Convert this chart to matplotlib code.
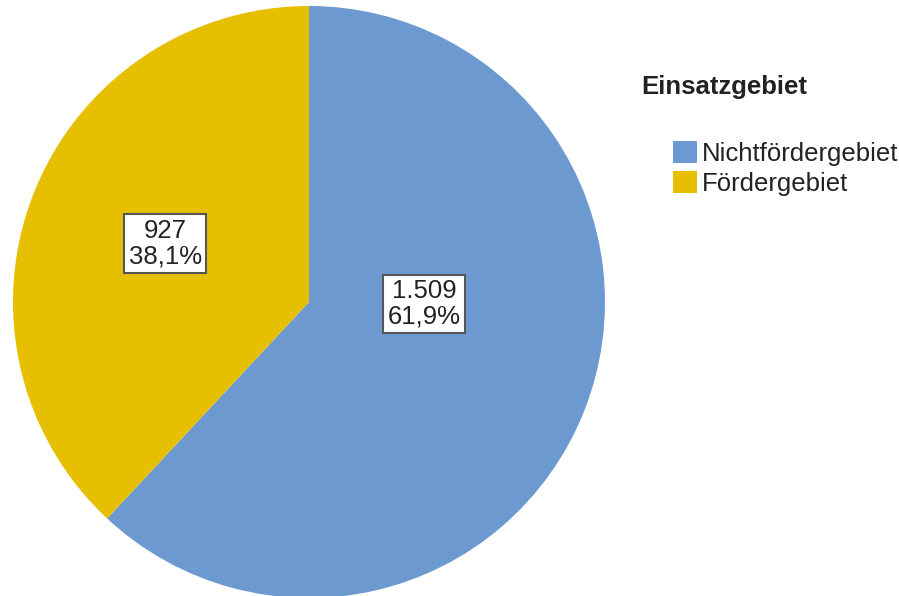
import matplotlib.pyplot as plt
from matplotlib.patches import Patch

plt.rcParams['font.family'] = ['Liberation Sans', 'DejaVu Sans']

categories = ["Nichtfördergebiet", "Fördergebiet"]
counts = [1509, 927]
percent_labels = ["61,9%", "38,1%"]
count_labels = ["1.509", "927"]
colors = ["#6d99d1", "#e6bf00"]
legend_title = "Einsatzgebiet"

# label box centres in data units (pie radius = 1)
label_pos = [(0.389, -0.007), (-0.486, 0.198)]

fig = plt.figure(figsize=(8.99, 5.96), dpi=100)
ax = fig.add_axes([13 / 899, -2 / 596, 592 / 899, 592 / 596])

wedges, _ = ax.pie(counts, colors=colors, startangle=90, counterclock=False,
                   radius=1, wedgeprops=dict(linewidth=0))
ax.set_xlim(-1, 1)
ax.set_ylim(-1, 1)
ax.set_aspect('equal')
ax.axis('off')

for (x, y), c, p in zip(label_pos, count_labels, percent_labels):
    ax.text(x, y, f"{c}\n{p}", ha='center', va='center', fontsize=18.5,
            linespacing=1.08, color='#222222',
            bbox=dict(boxstyle='square,pad=0.17', facecolor='white',
                      edgecolor='#555555', linewidth=1.5))

fig.text(641 / 899, 1 - 94 / 596, legend_title, fontsize=18.5, fontweight='bold',
         ha='left', va='baseline', color='#222222')

handles = [Patch(facecolor=col, edgecolor='none') for col in colors]
fig.legend(handles, categories, loc='upper left',
           bbox_to_anchor=(673 / 899, 1 - 141 / 596), frameon=False,
           fontsize=18.5, handlelength=0.92, handleheight=0.92,
           handletextpad=0.2, labelspacing=0.22, borderpad=0,
           borderaxespad=0, labelcolor='#222222')

fig.savefig("out.png", dpi=100)
